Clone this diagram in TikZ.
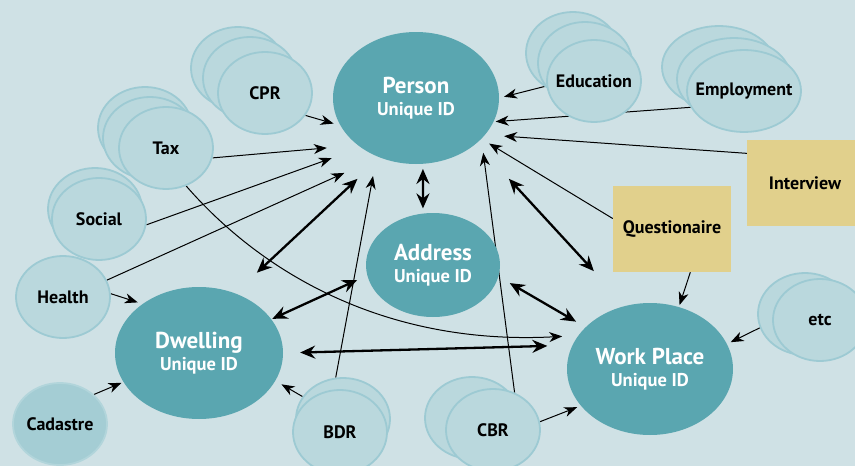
\documentclass[tikz,border=0pt]{standalone}
\usepackage{fontspec}
\setmainfont{PT Sans}
\usetikzlibrary{arrows.meta,shapes.geometric}

\definecolor{paleblue}{RGB}{207,225,229}
\definecolor{idteal}{RGB}{90,166,176}
\definecolor{regfill}{RGB}{186,216,221}
\definecolor{regline}{RGB}{157,202,211}
\definecolor{cadfill}{RGB}{164,205,212}
\definecolor{cadline}{RGB}{178,213,219}
\definecolor{sand}{RGB}{225,208,140}

\pgfdeclarelayer{bg}
\pgfdeclarelayer{links}
\pgfsetlayers{bg,links,main}

\newcommand{\idline}{{\fontsize{18.5}{18}\selectfont Unique ID}}

\begin{document}
\begin{tikzpicture}[x=1pt,y=1pt,
  idnode/.style={ellipse, fill=idteal, text=white, inner sep=0pt, align=center,
    minimum width=166pt, minimum height=132pt, font=\bfseries\fontsize{23}{22}\selectfont},
  reg/.style={ellipse, fill=regfill, draw=regline, line width=1.8pt, inner sep=0pt,
    minimum width=94pt, minimum height=82pt},
  source/.style={rectangle, fill=sand, inner sep=0pt, minimum width=118pt, minimum height=86pt,
    font=\bfseries\fontsize{18}{18}\selectfont},
  every label/.style={font=\bfseries\fontsize{18}{18}\selectfont, text=black},
  link/.style={-{Stealth[length=13pt,width=10pt,inset=4pt]}, line width=1pt},
  twoway/.style={{Stealth[length=15pt,width=13pt,inset=5pt]}-{Stealth[length=15pt,width=13pt,inset=5pt]}, line width=2.3pt}]

\useasboundingbox (0,0) rectangle (855,-466);
\begin{pgfonlayer}{bg}
\fill[paleblue] (0,0) rectangle (855,-466);
\end{pgfonlayer}

% unique id registers
\node[idnode] (person) at (416,-98) {Person\\\idline};
\node[idnode, minimum width=134pt, minimum height=104pt] (address) at (433,-265) {Address\\\idline};
\node[idnode, minimum width=168pt] (dwelling) at (199,-353) {Dwelling\\\idline};
\node[idnode] (work) at (650,-369) {Work Place\\\idline};

% stacked registers, back copies first
\foreach \x/\y in {238/-68, 250/-78} \node[reg] at (\x,\y) {};
\node[reg, label={center:CPR}] (cpr) at (265,-93) {};

\foreach \x/\y in {145/-128, 150/-138} \node[reg] at (\x,\y) {};
\node[reg, label={center:Tax}] (tax) at (166,-148) {};

\node[reg] at (95,-209) {};
\node[reg, label={center:Social}] (social) at (99,-219) {};

\node[reg, label={center:Health}] (health) at (63,-297) {};
\node[reg, fill=cadfill, draw=cadline, label={center:Cadastre}] (cadastre) at (60,-424) {};

\node[reg] (bdrb) at (343,-419) {};
\node[reg, minimum height=84pt, label={center:BDR}] (bdr) at (340,-432) {};

\node[reg] (cbrb) at (472,-418) {};
\node[reg, label={center:CBR}] (cbr) at (493,-430) {};

\foreach \x/\y in {573/-53, 585/-63} \node[reg] at (\x,\y) {};
\node[reg, label={center:Education}] (education) at (594,-81) {};

\foreach \x/\y in {719/-67, 734/-79} \node[reg, minimum width=114pt] at (\x,\y) {};
\node[reg, minimum width=114pt, label={center:Employment}] (employment) at (744,-91) {};

\node[reg] (etcb) at (805,-314) {};
\node[reg, label={center:etc}] (etc) at (820,-320) {};

% surveys
\node[source] (quest) at (672,-229) {Questionaire};
\node[source, minimum width=116pt] (interview) at (805,-183) {Interview};

\begin{pgfonlayer}{links}
\draw[link, shorten >=7pt] (cpr.-29) -- (person.200);
\draw[link, shorten >=31pt] (tax.-12) -- (person.219);
\draw[link, shorten >=31pt] (social.-7) -- (person.222);
\draw[link, shorten >=38pt] (health.21) -- (person.238);
\draw[link, shorten >=5pt] (health.4) -- (dwelling.139);
\draw[link, shorten >=20pt] (bdrb.100) -- (person.236);
\draw[link, shorten >=7pt] (bdrb.151) -- (dwelling.-20);
\draw[link, shorten >=2pt] (cadastre.41) -- (dwelling.201);
\draw[link, shorten >=14pt] (cbr.60) -- (person.328);
\draw[link, shorten >=4pt] (cbr.10) -- (work.208);
\draw[link, shorten >=2pt] (employment.197) -- (person.343);
\draw[link, shorten >=5pt] (education.186) -- (person.0);
\draw[link, shorten >=19pt] (interview.153) -- (person.332);
\draw[link, shorten >=9pt] (quest.170) -- (person.328);
\draw[link, shorten >=2pt] (quest.-67) -- (work.65);
\draw[link, shorten >=4pt] (etcb.197) -- (work.18);
\draw[link, shorten >=16pt] (tax.-62) .. controls +(-49:113) and +(183:195) .. (work.155);

\draw[twoway, shorten <=30pt, shorten >=31pt] (dwelling.59) -- (person.239);
\draw[twoway, shorten <=5pt, shorten >=5pt] (address.101) -- (person.276);
\draw[twoway, shorten <=1pt, shorten >=11pt] (dwelling.25) -- (address.189);
\draw[twoway, shorten <=17pt, shorten >=25pt] (dwelling.0) -- (work.163);
\draw[twoway, shorten <=13pt, shorten >=11pt] (address.-10) -- (work.147);
\draw[twoway, shorten <=48pt, shorten >=47pt] (person.323) -- (work.111);
\end{pgfonlayer}

\end{tikzpicture}
\end{document}
